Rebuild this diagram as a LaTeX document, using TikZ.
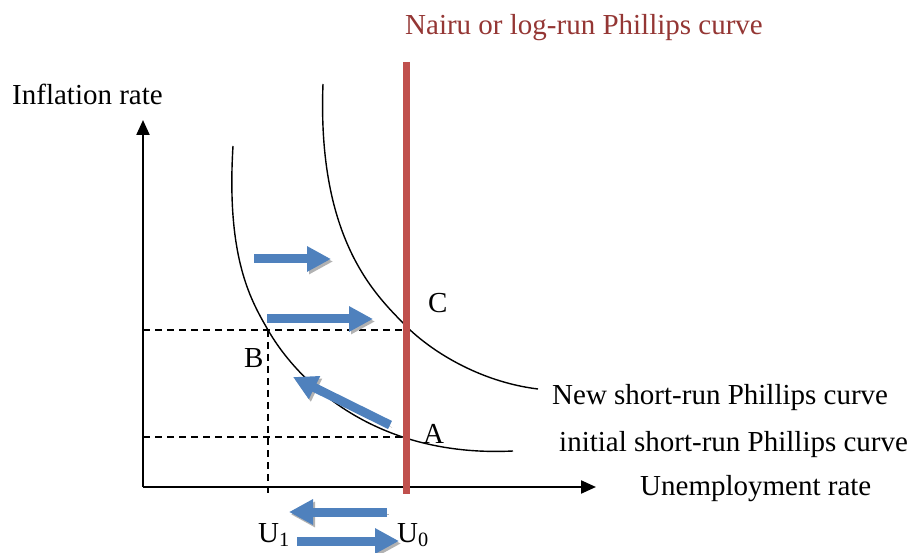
\documentclass[tikz,border=0pt]{standalone}
\usepackage{fontspec}
\setmainfont{Liberation Serif}
\usetikzlibrary{arrows.meta,positioning}
\definecolor{nairurot}{HTML}{C0504D}
\definecolor{titelrot}{HTML}{943634}
\definecolor{pfeilblau}{HTML}{4F81BD}
\tikzset{
  achse/.style={line width=2.2pt,-{Triangle[length=15pt,width=13pt]}},
  kurve/.style={line width=1.4pt},
  hilf/.style={line width=1.2pt,dash pattern=on 7pt off 5pt},
  lab/.style={anchor=base west,inner sep=0pt},
  blau/.style={line width=9pt,draw=pfeilblau,-{Triangle[length=24pt,width=24pt]},
    preaction={draw=black!30,transform canvas={xshift=2pt,yshift=-2.5pt}}},
}
\begin{document}
\begin{tikzpicture}[x=1pt,y=-1pt,font=\fontsize{29pt}{34pt}\selectfont]
  \useasboundingbox (0,0) rectangle (911,553);
  % Punkte
  \coordinate (O) at (143,487);
  \coordinate (ytop) at (143,120);
  \coordinate (xend) at (596,487);
  \coordinate (B) at (268,330);
  \coordinate (C) at (406,330);
  \coordinate (A) at (406,437);
  \coordinate (u1) at (268,497);
  \coordinate (ntop) at (406,62);
  \coordinate (nbot) at (406,494);
  \coordinate (k1a) at (233,146); \coordinate (k1e) at (513,451);
  \coordinate (k2a) at (323,84);  \coordinate (k2m) at (404,324);
  \coordinate (k2e) at (538,389);
  % Achsen
  \draw[achse] (O) -- (ytop);
  \draw[achse] (O) -- (xend);
  % Hilfslinien
  \draw[hilf] (O|-C) -- (C);
  \draw[hilf] (O|-A) -- (A);
  \draw[hilf] (B) -- (u1);
  % Kurven
  \draw[kurve] (k1a) .. controls (226,260) and (252,302) .. (B)
    .. controls (295,377) and (370,458) .. (k1e);
  \draw[kurve] (k2a) .. controls (317,240) and (376,295) .. (k2m)
    .. controls (430,351) and (480,382) .. (k2e);
  \draw[line width=7pt,nairurot] (ntop) -- (nbot);
  % Texte
  \node[lab,titelrot] (titel) at (405,35) {Nairu or log-run Phillips curve};
  \node[lab] (ylab) at (12,105) {Inflation rate};
  \node[lab] (xlab) at (640,495) {Unemployment rate};
  \node[lab] (neu) at (552,405) {New short-run Phillips curve};
  \node[lab] (alt) at (559,451) {initial short-run Phillips curve};
  \node[lab] (lC) at (428,313) {C};
  \node[lab] (lB) at (244,368) {B};
  \node[lab] (lA) at (423,443) {A};
  \node[lab] (lU1) at (258,542) {U\textsubscript{1}};
  \node[lab] (lU0) at (397,542) {U\textsubscript{0}};
  % Pfeile
  \coordinate (p1a) at (254,259); \coordinate (p1b) at (331,259);
  \coordinate (p2a) at (267,319); \coordinate (p2b) at (373,319);
  \coordinate (p3a) at (390,425); \coordinate (p3b) at (293,377);
  \coordinate (p4a) at (387,512); \coordinate (p4b) at (289,512);
  \coordinate (p5a) at (297,541); \coordinate (p5b) at (399,541);
  \foreach \s/\e in {p1a/p1b,p2a/p2b,p3a/p3b,p4a/p4b,p5a/p5b}
    \draw[blau] (\s) -- (\e);
\end{tikzpicture}
\end{document}
